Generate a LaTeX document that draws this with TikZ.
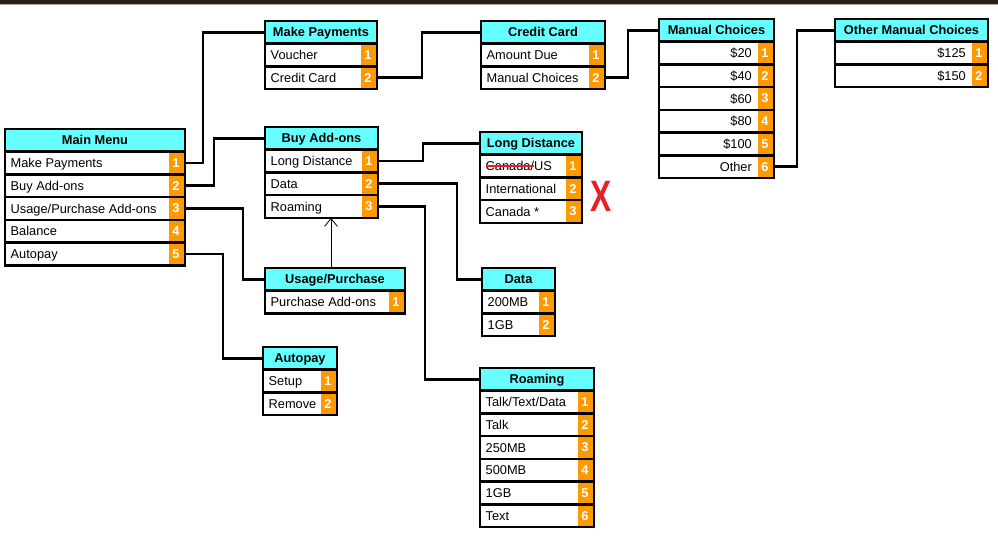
\documentclass[tikz,border=0pt]{standalone}
\usepackage{fontspec}
\setmainfont{Liberation Sans}
\usetikzlibrary{positioning,arrows.meta,calc}
\definecolor{headcyan}{RGB}{102,255,255}
\definecolor{numorange}{RGB}{255,153,0}
\definecolor{topbar}{RGB}{38,30,20}
\definecolor{crossred}{RGB}{232,32,38}
\newcommand{\rowh}{22.7}
\newcommand{\menufont}{\fontsize{12.8}{15}\selectfont}
\newcommand{\struck}[1]{\sbox0{#1}\usebox0\llap{\textcolor{crossred}{\rule[0.3em]{\wd0}{2pt}}}}
% menu box: name, x, y top, width, title, items, text side (west/east)
\newcommand{\menu}[7]{%
  \node[menuhead,minimum width=#4,anchor=north west] (#1) at (#2,#3) {#5};
  \foreach \txt [count=\i] in {#6} {
    \node[menurow,minimum width=#4,anchor=north west] (#1-\i) at (#2,{#3+\i*\rowh}) {};
    \node[rowtext,txt #7] at (#1-\i.#7) {\txt};
    \node[numcell,anchor=east] at ($(#1-\i.east)+(-1.3,0)$) {\i};
  }%
}

\begin{document}
\begin{tikzpicture}[x=1pt,y=-1pt,
  every node/.style={font=\menufont},
  menuhead/.style={draw,line width=2.6pt,fill=headcyan,font=\menufont\bfseries,minimum height=\rowh,text height=9pt,text depth=0pt,inner sep=2pt,outer sep=0pt},
  menurow/.style={draw,line width=2.6pt,fill=white,minimum height=\rowh,inner sep=0pt,outer sep=0pt},
  rowtext/.style={inner sep=0pt},
  txt west/.style={anchor=base west,xshift=5.5pt,yshift=-4.6pt},
  txt east/.style={anchor=base east,xshift=-22pt,yshift=-4.6pt},
  numcell/.style={fill=numorange,text=white,font=\menufont\bfseries,minimum width=15pt,minimum height=20.1pt,text height=9pt,text depth=0pt,inner sep=0pt},
  link/.style={line width=2.6pt},
  uplink/.style={line width=0.8pt,-{Straight Barb[length=8pt,width=13pt]}}]
\useasboundingbox (0,0) rectangle (998,542);
% ---- screenshot edge ----
\fill[topbar] (0,0) rectangle (998,4);
\draw[black!35] (0,4.5) -- (998,4.5);
% ---- menus ----
\menu{main}{5}{129}{180}{Main Menu}{Make Payments,Buy Add-ons,Usage/Purchase Add-ons,Balance,Autopay}{west}
\menu{pay}{265}{21}{112}{Make Payments}{Voucher,Credit Card}{west}
\menu{card}{481}{21}{124}{Credit Card}{Amount Due,Manual Choices}{west}
\menu{manual}{659}{19}{115}{Manual Choices}{\$20,\$40,\$60,\$80,\$100,Other}{east}
\menu{other}{835}{19}{153}{Other Manual Choices}{\$125,\$150}{east}
\menu{addons}{265}{127}{113}{Buy Add-ons}{Long Distance,Data,Roaming}{west}
\menu{longd}{480}{132}{102}{Long Distance}{\struck{Canada/}US,International,Canada *}{west}
\menu{usage}{265}{268}{140}{Usage/Purchase}{Purchase Add-ons}{west}
\menu{autopay}{263}{347}{74}{Autopay}{Setup,Remove}{west}
\menu{data}{482}{268}{73}{Data}{200MB,1GB}{west}
\menu{roam}{480}{368}{114}{Roaming}{Talk/Text/Data,Talk,250MB,500MB,1GB,Text}{west}
% ---- links ----
\draw[link] (main-1.east) -- ++(18,0) |- (pay.west);
\draw[link] (main-2.east) -- ++(29,0) |- (addons.west);
\draw[link] (main-3.east) -- ++(58,0) |- (usage.west);
\draw[link] (main-5.east) -- ++(38,0) |- (autopay.west);
\draw[link] (pay-2.east) -- ++(45,0) |- (card.west);
\draw[link] (card-2.east) -- ++(23,0) |- (manual.west);
\draw[link] (manual-6.east) -- ++(23,0) |- (other.west);
\draw[link] (addons-1.east) -- ++(45,0) |- (longd.west);
\draw[link] (addons-2.east) -- ++(79,0) |- (data.west);
\draw[link] (addons-3.east) -- ++(47,0) |- (roam.west);
\draw[uplink] ($(usage.north west)+(66,0)$) coordinate (u) -- (u |- addons-3.south);
% ---- crossed out ----
\node[font=\fontsize{44}{44}\selectfont\bfseries,text=crossred] (nox) at (601,196) {\scalebox{0.72}[1]{X}};
\end{tikzpicture}
\end{document}
